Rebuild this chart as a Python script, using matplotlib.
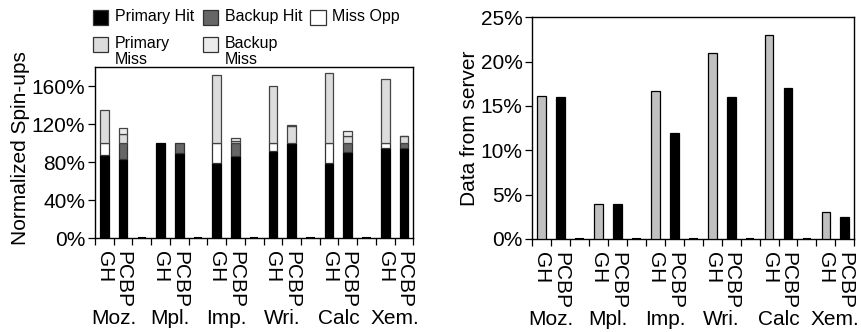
import numpy as np
import matplotlib
matplotlib.use("Agg")
import matplotlib.pyplot as plt
from matplotlib.patches import Rectangle
from matplotlib.ticker import FuncFormatter

plt.rcParams['font.family'] = ['Liberation Sans', 'DejaVu Sans']

# ---------------- data ----------------
groups = ['Moz.', 'Mpl.', 'Imp.', 'Wri.', 'Calc', 'Xem.']
schemes = ['GH', 'PCBP']
segments = ['Primary Hit', 'Backup Hit', 'Miss Opp', 'Primary Miss', 'Backup Miss']

# Normalized spin-ups (%) per segment
gh_primary_hit = [88, 100, 79, 92, 79, 95]
gh_backup_hit = [0, 0, 0, 0, 0, 0]
gh_miss_opp = [12, 0, 21, 8, 21, 5]
gh_primary_miss = [35, 0, 72, 60, 74, 68]
gh_backup_miss = [0, 0, 0, 0, 0, 0]

pcbp_primary_hit = [83, 90, 87, 100, 91, 95]
pcbp_backup_hit = [17, 10, 13, 0, 9, 5]
pcbp_miss_opp = [0, 0, 0, 0, 0, 0]
pcbp_primary_miss = [10, 0, 2, 18, 8, 7.5]
pcbp_backup_miss = [6, 0, 4, 1, 5, 0.5]

# Data from server (%)
server_gh = [16.1, 4.0, 16.7, 21.0, 23.0, 3.1]
server_pcbp = [16.0, 4.0, 12.0, 16.0, 17.0, 2.5]

# empty separator slot between groups
spacer = [0, 0, 0, 0, 0]

seg_colors = ['#000000', '#666666', '#ffffff', '#dcdcdc', '#ebebeb']
seg_edges = ['#000000', '#333333', '#333333', '#444444', '#444444']

# ---------------- layout ----------------
W, H = 861, 332
fig = plt.figure(figsize=(W / 100, H / 100), dpi=100)
ax1 = fig.add_axes([95 / W, 1 - 238.3 / H, 318.3 / W, 171 / H])
ax2 = fig.add_axes([532.3 / W, 1 - 239 / H, 322 / W, 221.7 / H])

n = len(groups)
x_gh = np.arange(n) * 3 + 0.5
x_pcbp = np.arange(n) * 3 + 1.5
x_sp = np.arange(n - 1) * 3 + 2.5
bw = 0.46
FS = 15

# ---------------- left: stacked ----------------
gh_stack = [gh_primary_hit, gh_backup_hit, gh_miss_opp, gh_primary_miss, gh_backup_miss]
pcbp_stack = [pcbp_primary_hit, pcbp_backup_hit, pcbp_miss_opp, pcbp_primary_miss, pcbp_backup_miss]
for xs, stack in ((x_gh, gh_stack), (x_pcbp, pcbp_stack)):
    bottom = np.zeros(n)
    for vals, c, e in zip(stack, seg_colors, seg_edges):
        v = np.array(vals, dtype=float)
        mask = v > 0
        ax1.bar(xs[mask], v[mask], bw, bottom=bottom[mask], color=c,
                edgecolor=e, linewidth=0.9, zorder=3)
        bottom += v
ax1.bar(x_sp, spacer, bw, color='black', edgecolor='black', linewidth=1.5, zorder=3)

ax1.set_ylim(0, 180)
ax1.set_yticks([0, 40, 80, 120, 160])
ax1.yaxis.set_major_formatter(FuncFormatter(lambda v, p: f"{int(v)}%"))
ax1.set_ylabel('Normalized Spin-ups', fontsize=FS)
ax1.yaxis.set_label_coords(-0.205, 0.53)

# ---------------- right: grouped ----------------
ax2.bar(x_gh, server_gh, bw, color='#c0c0c0', edgecolor='black', linewidth=0.9, zorder=3)
ax2.bar(x_pcbp, server_pcbp, bw, color='black', edgecolor='black', linewidth=0.9, zorder=3)
ax2.bar(x_sp, spacer, bw, color='black', edgecolor='black', linewidth=1.5, zorder=3)
ax2.set_ylim(0, 25)
ax2.set_yticks([0, 5, 10, 15, 20, 25])
ax2.yaxis.set_major_formatter(FuncFormatter(lambda v, p: f"{int(v)}%"))
ax2.set_ylabel('Data from server', fontsize=FS)
ax2.yaxis.set_label_coords(-0.165, 0.5)

# ---------------- shared x styling ----------------
tick_pos = np.sort(np.concatenate([x_gh, x_pcbp]))
tick_lab = [schemes[i % 2] for i in range(len(tick_pos))]
for ax in (ax1, ax2):
    ax.set_xlim(0, 3 * n - 1)
    ax.set_xticks(tick_pos)
    ax.set_xticklabels(tick_lab, rotation=-90, fontsize=FS, va='top', ha='center')
    ax.set_xticks(np.arange(0, 3 * n), minor=True)
    ax.tick_params(axis='x', which='major', length=0, pad=9)
    ax.tick_params(axis='x', which='minor', length=5, width=0.9, direction='out')
    ax.tick_params(axis='y', length=5, width=0.9, direction='out', labelsize=FS, pad=2)
    for s in ax.spines.values():
        s.set_linewidth(1.0)
        s.set_color('black')
    for g, name in enumerate(groups):
        ax.annotate(name, xy=(3 * g + 1, 0), xycoords=ax.get_xaxis_transform(),
                    xytext=(0, -58), textcoords='offset points',
                    ha='center', va='center', fontsize=FS)

# ---------------- legend (manual) ----------------
def fx(px):
    return px / W

def fy(py):
    return 1 - py / H

LFS = 11.5
leg_items = [
    (segments[0], 0, 92.7, 10),
    (segments[1], 1, 202.5, 10),
    (segments[2], 2, 310, 10),
    ('Primary\nMiss', 3, 92.7, 37),
    ('Backup\nMiss', 4, 202.5, 37),
]
for label, ci, px, py in leg_items:
    fig.patches.append(Rectangle((fx(px), fy(py + 15)), 15.5 / W, 15 / H,
                                 transform=fig.transFigure, facecolor=seg_colors[ci],
                                 edgecolor='#333333', linewidth=0.9))
    fig.text(fx(px + 22), fy(py - 1), label, fontsize=LFS, ha='left', va='top',
             linespacing=1.05)

fig.savefig('out.png', dpi=100)
